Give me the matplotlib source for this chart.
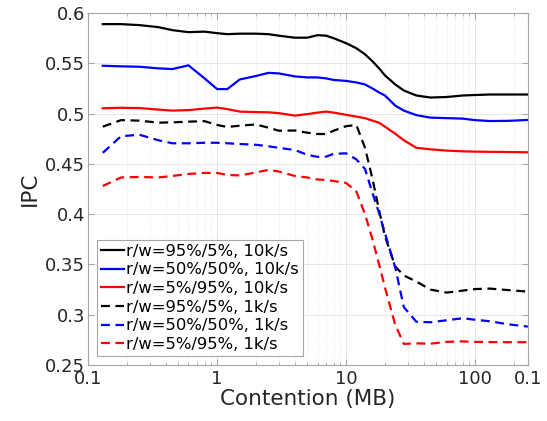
import matplotlib
matplotlib.use('Agg')
import matplotlib.pyplot as plt
from matplotlib.ticker import FixedLocator, FixedFormatter, LogLocator, NullFormatter

# contention sizes (MB)
x = [0.13, 0.18, 0.25, 0.35, 0.45, 0.6, 0.8, 1.0, 1.2, 1.5, 2, 2.5, 3, 4, 5, 6, 7, 8,
     10, 12, 14, 16, 18, 20, 24, 28, 35, 45, 60, 80, 100, 130, 180, 256]

ipc_95_10k = [0.589, 0.589, 0.588, 0.586, 0.583, 0.581, 0.5815, 0.580, 0.579, 0.5795, 0.5795,
              0.579, 0.5775, 0.5755, 0.5755, 0.578, 0.5775, 0.575, 0.570, 0.565, 0.559, 0.552,
              0.545, 0.538, 0.529, 0.523, 0.518, 0.516, 0.5165, 0.518, 0.5185, 0.519, 0.519, 0.519]
ipc_50_10k = [0.5476, 0.547, 0.5466, 0.545, 0.5443, 0.548, 0.535, 0.5244, 0.5244, 0.534, 0.5374,
              0.5405, 0.540, 0.537, 0.536, 0.536, 0.535, 0.5335, 0.5325, 0.531, 0.529, 0.525,
              0.521, 0.518, 0.508, 0.503, 0.4985, 0.496, 0.4955, 0.495, 0.4935, 0.4926, 0.4928, 0.4937]
ipc_5_10k = [0.5053, 0.5058, 0.5055, 0.504, 0.503, 0.5035, 0.505, 0.506, 0.5045, 0.502, 0.5015,
             0.5013, 0.5005, 0.498, 0.4995, 0.501, 0.502, 0.501, 0.4988, 0.497, 0.4955, 0.493,
             0.491, 0.487, 0.480, 0.4735, 0.466, 0.4645, 0.4632, 0.4625, 0.4622, 0.462, 0.4618, 0.4615]
ipc_95_1k = [0.487, 0.4935, 0.493, 0.491, 0.4913, 0.492, 0.4925, 0.4887, 0.4867, 0.488, 0.4892,
             0.486, 0.483, 0.4832, 0.481, 0.4797, 0.4797, 0.483, 0.4875, 0.4887, 0.466, 0.435,
             0.404, 0.378, 0.348, 0.339, 0.333, 0.325, 0.322, 0.324, 0.3255, 0.326, 0.3245, 0.323]
ipc_50_1k = [0.461, 0.4775, 0.479, 0.4735, 0.4705, 0.4705, 0.471, 0.471, 0.4705, 0.4698, 0.469,
             0.4675, 0.466, 0.4638, 0.459, 0.457, 0.4572, 0.460, 0.4605, 0.4545, 0.445, 0.421,
             0.401, 0.381, 0.347, 0.3075, 0.293, 0.2925, 0.2945, 0.2965, 0.295, 0.2935, 0.2905, 0.2882]
ipc_5_1k = [0.428, 0.4365, 0.437, 0.4365, 0.438, 0.440, 0.441, 0.441, 0.439, 0.4385, 0.4415,
            0.444, 0.4425, 0.438, 0.4365, 0.4345, 0.434, 0.433, 0.431, 0.4225, 0.400, 0.375,
            0.350, 0.327, 0.290, 0.271, 0.2715, 0.2712, 0.273, 0.2735, 0.273, 0.2728, 0.2727, 0.2727]

labels = ['r/w=95%/5%, 10k/s', 'r/w=50%/50%, 10k/s', 'r/w=5%/95%, 10k/s',
          'r/w=95%/5%, 1k/s', 'r/w=50%/50%, 1k/s', 'r/w=5%/95%, 1k/s']
xticks = [0.1, 1, 10, 100, 256]
xticklabels = ['0.1', '1', '10', '100', '0.1']
yticks = [0.25, 0.3, 0.35, 0.4, 0.45, 0.5, 0.55, 0.6]

series = [ipc_95_10k, ipc_50_10k, ipc_5_10k, ipc_95_1k, ipc_50_1k, ipc_5_1k]
colors = ['black', 'blue', 'red', 'black', 'blue', 'red']
styles = ['-', '-', '-', '--', '--', '--']

fig = plt.figure(figsize=(5.47, 4.21), dpi=100)
ax = fig.add_axes([0.161, 0.133, 0.804, 0.836])

for y, c, ls, lab in zip(series, colors, styles, labels):
    line, = ax.plot(x, y, color=c, linestyle=ls, linewidth=1.6, label=lab)
    if ls == '--':
        line.set_dashes((4, 2.5))

ax.set_xscale('log')
ax.set_xlim(0.1, 256)
ax.set_ylim(0.25, 0.6)
ax.xaxis.set_major_locator(FixedLocator(xticks))
ax.xaxis.set_major_formatter(FixedFormatter(xticklabels))
ax.xaxis.set_minor_locator(LogLocator(base=10, subs=range(2, 10)))
ax.xaxis.set_minor_formatter(NullFormatter())
ax.set_yticks(yticks)
ax.set_yticklabels(['%g' % v for v in yticks])

ax.grid(True, which='major', color='#e3e3e3', linewidth=0.6)
ax.grid(True, which='minor', axis='x', color='#e8e8e8', linewidth=0.6, linestyle=(0, (2, 2)))
ax.set_axisbelow(True)

for s in ax.spines.values():
    s.set_color('#a6a6a6')
    s.set_linewidth(0.8)
ax.tick_params(which='both', direction='in', top=True, right=True, color='#a6a6a6',
               labelcolor='#262626', labelsize=13)
ax.tick_params(which='major', length=4)
ax.tick_params(which='minor', length=2)
ax.tick_params(axis='y', pad=2)

ax.set_xlabel('Contention (MB)', fontsize=15.5, color='#262626', labelpad=1)
ax.set_ylabel('IPC', fontsize=15.5, color='#262626', labelpad=4)

leg = ax.legend(loc='lower left', fontsize=11.8, handlelength=1.4, handletextpad=0.1,
                labelspacing=0.22, borderpad=0.25, borderaxespad=0.55, fancybox=False,
                edgecolor='#a6a6a6', framealpha=1)
leg.get_frame().set_linewidth(0.8)
for t in leg.get_texts():
    t.set_color('#000000')

fig.savefig('out.png', dpi=100)
